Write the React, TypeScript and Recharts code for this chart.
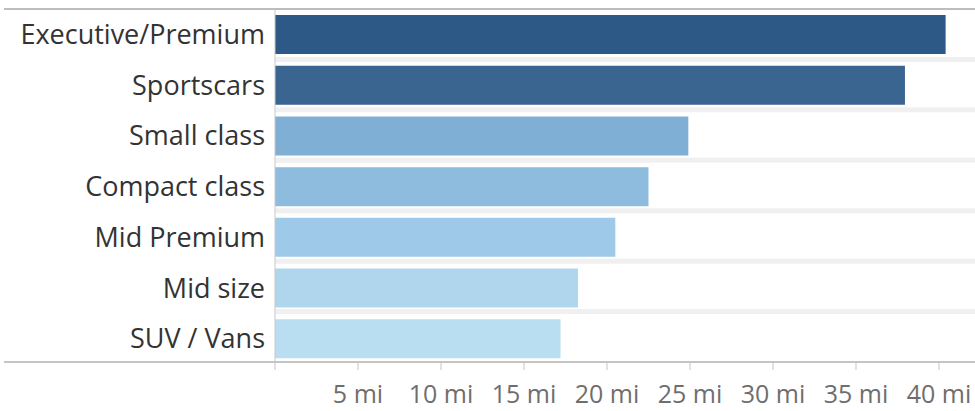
import { BarChart, Bar, XAxis, YAxis, CartesianGrid, Cell } from "recharts";

const categories = [
  "Executive/Premium",
  "Sportscars",
  "Small class",
  "Compact class",
  "Mid Premium",
  "Mid size",
  "SUV / Vans",
];
const distances = [40.4, 37.95, 24.9, 22.5, 20.5, 18.25, 17.2];
const barColors = [
  "#2c5985",
  "#3a6591",
  "#7fafd4",
  "#8ebcde",
  "#9ec9e8",
  "#b0d6ee",
  "#badef1",
];
const xTicks = [0, 5, 10, 15, 20, 25, 30, 35, 40];

const data = categories.map((name, i) => ({ name, miles: distances[i] }));

const FONT = "'Open Sans', 'Noto Sans', sans-serif";

// band boundaries between rows get a thick light stripe
const stripes = ({ offset }: any) => {
  const step = offset.height / categories.length;
  const out: number[] = [];
  for (let i = 1; i < categories.length; i++) out.push(offset.top + step * i);
  return out;
};

export default function App() {
  return (
    <div style={{ position: "absolute", left: 0, top: 0, width: 975, height: 411, background: "#fff" }}>
      <BarChart
        width={975}
        height={411}
        data={data}
        layout="vertical"
        margin={{ top: 9, right: 0, bottom: 0, left: 0 }}
        barSize={39}
      >
        <CartesianGrid
          vertical={false}
          stroke="#f0f0f0"
          strokeWidth={5}
          horizontalCoordinatesGenerator={stripes}
        />
        <XAxis
          type="number"
          domain={[0, 42.17]}
          ticks={xTicks}
          allowDataOverflow
          height={49}
          axisLine={false}
          tickLine={{ stroke: "#c4c4c4" }}
          tickSize={8}
          tickMargin={15}
          tickFormatter={(v: number) => (v === 0 ? "" : `${v} mi`)}
          tick={{ fill: "#6e6e6e", fontSize: 25, fontFamily: FONT }}
        />
        <YAxis
          type="category"
          dataKey="name"
          width={275}
          axisLine={{ stroke: "#c8c8c8" }}
          tickLine={false}
          tickSize={0}
          tickMargin={10}
          padding={{ top: 0, bottom: -2 }}
          tick={{ fill: "#333333", fontSize: 27, fontFamily: FONT }}
        />
        <Bar dataKey="miles" isAnimationActive={false}>
          {data.map((d, i) => (
            <Cell key={d.name} fill={barColors[i]} />
          ))}
        </Bar>
      </BarChart>
      <div style={{ position: "absolute", left: 4, top: 8, width: 971, height: 2, background: "#bdbdbd" }} />
      <div style={{ position: "absolute", left: 4, top: 361, width: 971, height: 2, background: "#c4c4c4" }} />
    </div>
  );
}
